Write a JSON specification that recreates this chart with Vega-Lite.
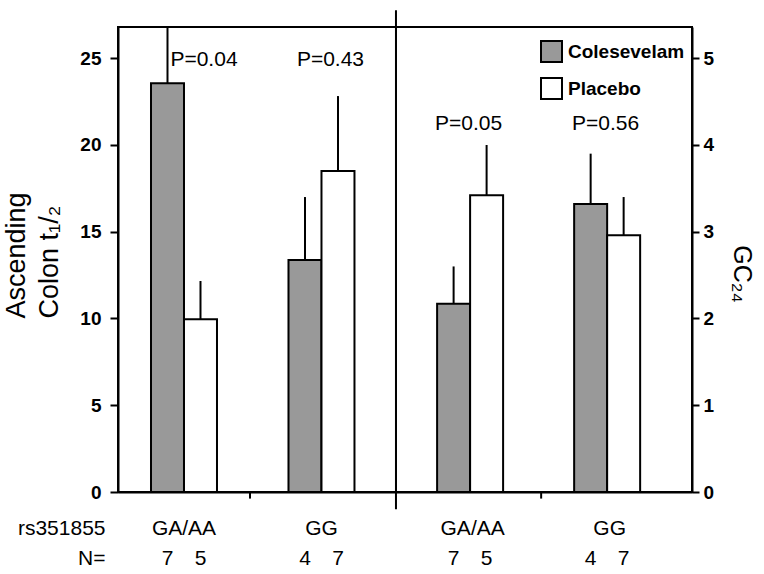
{
  "$schema": "https://vega.github.io/schema/vega-lite/v6.json",
  "padding": {"left": 1, "top": 8, "right": 5, "bottom": 2},
  "background": "white",
  "config": {
    "font": "Liberation Sans",
    "view": {"stroke": "black", "strokeWidth": 2},
    "axis": {"domainColor": "black", "domainWidth": 2, "tickColor": "black", "tickWidth": 2, "labelColor": "black", "titleColor": "black", "grid": false}
  },
  "bounds": "flush",
  "spacing": 0,
  "resolve": {"scale": {"fill": "independent"}, "legend": {"fill": "independent"}},
  "datasets": {
    "asc": [
      {"genotype": "GA/AA", "treatment": "Colesevelam", "mean": 23.56, "upper": 29.0, "n": 7},
      {"genotype": "GA/AA", "treatment": "Placebo", "mean": 9.95, "upper": 12.16, "n": 5},
      {"genotype": "GG", "treatment": "Colesevelam", "mean": 13.37, "upper": 17.0, "n": 4},
      {"genotype": "GG", "treatment": "Placebo", "mean": 18.5, "upper": 22.82, "n": 7}
    ],
    "gc": [
      {"genotype": "GA/AA", "treatment": "Colesevelam", "mean": 2.17, "upper": 2.6, "n": 7},
      {"genotype": "GA/AA", "treatment": "Placebo", "mean": 3.42, "upper": 4.0, "n": 5},
      {"genotype": "GG", "treatment": "Colesevelam", "mean": 3.32, "upper": 3.9, "n": 4},
      {"genotype": "GG", "treatment": "Placebo", "mean": 2.96, "upper": 3.4, "n": 7}
    ],
    "p_asc": [
      {"genotype": "GA/AA", "p": "P=0.04"},
      {"genotype": "GG", "p": "P=0.43"}
    ],
    "p_gc": [
      {"genotype": "GA/AA", "p": "P=0.05"},
      {"genotype": "GG", "p": "P=0.56"}
    ]
  },
  "hconcat": [
    {
      "width": 278,
      "height": 465,
      "layer": [
        {
          "data": {"name": "asc"},
          "mark": {"type": "bar", "stroke": "black", "strokeWidth": 2},
          "encoding": {
            "x": {
              "field": "genotype", "type": "nominal",
              "scale": {"domain": ["GA/AA", "GG"], "paddingInner": 0.04, "paddingOuter": 0.031, "align": 0},
              "axis": {
                "title": ["rs351855", "N=\u2002"],
                "titleFontSize": 21, "titleFontWeight": "normal", "titleAlign": "right", "titleBaseline": "alphabetic",
                "titleX": -13, "titleY": 42.3, "titleLineHeight": 30, "titleAngle": 0,
                "labelFontSize": 21, "labelFontWeight": "normal", "labelBaseline": "alphabetic", "labelPadding": 42, "labelAngle": 0,
                "ticks": false, "tickSize": 0
              }
            },
            "xOffset": {"field": "treatment", "type": "nominal", "scale": {"domain": ["Colesevelam", "Placebo"], "paddingInner": 0, "paddingOuter": 1.0625}},
            "y": {
              "field": "mean", "type": "quantitative",
              "scale": {"domain": [0, 26.8], "nice": false},
              "axis": {
                "values": [0, 5, 10, 15, 20, 25],
                "title": ["Ascending", "Colon t\u2081/\u2082"],
                "titleFontSize": 27, "titleFontWeight": "normal", "titleAngle": 270, "titleAlign": "left", "titleBaseline": "alphabetic",
                "titleX": -93.5, "titleY": 291, "titleLineHeight": 33,
                "labelFontSize": 19, "labelFontWeight": "bold", "tickSize": 8, "labelPadding": 9
              }
            },
            "fill": {"field": "treatment", "type": "nominal", "scale": {"domain": ["Colesevelam", "Placebo"], "range": ["#999999", "#ffffff"]}, "legend": null}
          }
        },
        {
          "data": {"name": "asc"},
          "mark": {"type": "rule", "color": "black", "strokeWidth": 2, "clip": true},
          "encoding": {
            "x": {"field": "genotype", "type": "nominal"},
            "xOffset": {"field": "treatment", "type": "nominal"},
            "y": {"field": "mean", "type": "quantitative"},
            "y2": {"field": "upper"}
          }
        },
        {
          "data": {"name": "p_asc"},
          "transform": [{"filter": "datum.genotype == 'GA/AA'"}],
          "mark": {"type": "text", "fontSize": 21, "baseline": "alphabetic", "align": "center", "dx": 20, "color": "black"},
          "encoding": {
            "x": {"field": "genotype", "type": "nominal"},
            "y": {"datum": 24.55},
            "text": {"field": "p", "type": "nominal"}
          }
        },
        {
          "data": {"name": "p_asc"},
          "transform": [{"filter": "datum.genotype == 'GG'"}],
          "mark": {"type": "text", "fontSize": 21, "baseline": "alphabetic", "align": "center", "dx": 9, "color": "black"},
          "encoding": {
            "x": {"field": "genotype", "type": "nominal"},
            "y": {"datum": 24.55},
            "text": {"field": "p", "type": "nominal"}
          }
        },
        {
          "data": {"name": "asc"},
          "mark": {"type": "text", "fontSize": 21, "baseline": "alphabetic", "align": "center", "color": "black"},
          "encoding": {
            "x": {"field": "genotype", "type": "nominal"},
            "xOffset": {"field": "treatment", "type": "nominal"},
            "y": {"datum": -4.18},
            "text": {"field": "n", "type": "quantitative"}
          }
        },
        {
          "data": {"values": [{}]},
          "mark": {"type": "rule", "color": "black", "strokeWidth": 2},
          "encoding": {
            "x": {"datum": "GG", "type": "nominal", "bandPosition": 1.0644},
            "y": {"datum": 27.76, "type": "quantitative"},
            "y2": {"datum": -1.0}
          }
        },
        {
          "data": {"values": [{}]},
          "mark": {"type": "rule", "color": "black", "strokeWidth": 2},
          "encoding": {
            "x": {"datum": "GA/AA", "type": "nominal", "bandPosition": 1},
            "y": {"datum": 0, "type": "quantitative"},
            "y2": {"datum": -0.38}
          }
        }
      ]
    },
    {
      "width": 296,
      "height": 465,
      "layer": [
        {
          "data": {"name": "gc"},
          "mark": {"type": "bar", "stroke": "black", "strokeWidth": 2},
          "encoding": {
            "x": {
              "field": "genotype", "type": "nominal",
              "scale": {"domain": ["GA/AA", "GG"], "paddingInner": 0, "paddingOuter": 0.08, "align": 0.37},
              "axis": {
                "title": null,
                "labelFontSize": 21, "labelFontWeight": "normal", "labelBaseline": "alphabetic", "labelPadding": 42, "labelAngle": 0,
                "ticks": false, "tickSize": 0
              }
            },
            "xOffset": {"field": "treatment", "type": "nominal", "scale": {"domain": ["Colesevelam", "Placebo"], "paddingInner": 0, "paddingOuter": 1.141}},
            "y": {
              "field": "mean", "type": "quantitative",
              "scale": {"domain": [0, 5.36], "nice": false},
              "axis": {
                "orient": "right",
                "values": [0, 1, 2, 3, 4, 5],
                "format": "d",
                "title": "GC\u2082\u2084",
                "titleFontSize": 25, "titleFontWeight": "normal", "titleAngle": 90, "titleAlign": "center", "titleBaseline": "alphabetic",
                "titleX": 41.6, "titleY": 246.5,
                "labelFontSize": 19, "labelFontWeight": "bold", "tickSize": 7, "labelPadding": 4
              }
            },
            "fill": {
              "field": "treatment", "type": "nominal",
              "scale": {"domain": ["Colesevelam", "Placebo"], "range": ["#999999", "#ffffff"]},
              "legend": {
                "orient": "none", "legendX": 144, "legendY": 13, "title": null,
                "symbolType": "square", "symbolSize": 441, "symbolStrokeColor": "black", "symbolStrokeWidth": 2,
                "labelFontSize": 19, "labelFontWeight": "bold", "labelColor": "black", "labelFont": "Liberation Sans",
                "labelOffset": 5, "rowPadding": 8
              }
            }
          }
        },
        {
          "data": {"name": "gc"},
          "mark": {"type": "rule", "color": "black", "strokeWidth": 2, "clip": true},
          "encoding": {
            "x": {"field": "genotype", "type": "nominal"},
            "xOffset": {"field": "treatment", "type": "nominal"},
            "y": {"field": "mean", "type": "quantitative"},
            "y2": {"field": "upper"}
          }
        },
        {
          "data": {"name": "p_gc"},
          "mark": {"type": "text", "fontSize": 21, "baseline": "alphabetic", "align": "center", "dx": -4, "color": "black"},
          "encoding": {
            "x": {"field": "genotype", "type": "nominal"},
            "y": {"datum": 4.17},
            "text": {"field": "p", "type": "nominal"}
          }
        },
        {
          "data": {"name": "gc"},
          "mark": {"type": "text", "fontSize": 21, "baseline": "alphabetic", "align": "center", "color": "black"},
          "encoding": {
            "x": {"field": "genotype", "type": "nominal"},
            "xOffset": {"field": "treatment", "type": "nominal"},
            "y": {"datum": -0.836},
            "text": {"field": "n", "type": "quantitative"}
          }
        },
        {
          "data": {"values": [{}]},
          "mark": {"type": "rule", "color": "black", "strokeWidth": 2},
          "encoding": {
            "x": {"datum": "GA/AA", "type": "nominal", "bandPosition": 1},
            "y": {"datum": 0, "type": "quantitative"},
            "y2": {"datum": -0.076}
          }
        }
      ]
    }
  ]
}
